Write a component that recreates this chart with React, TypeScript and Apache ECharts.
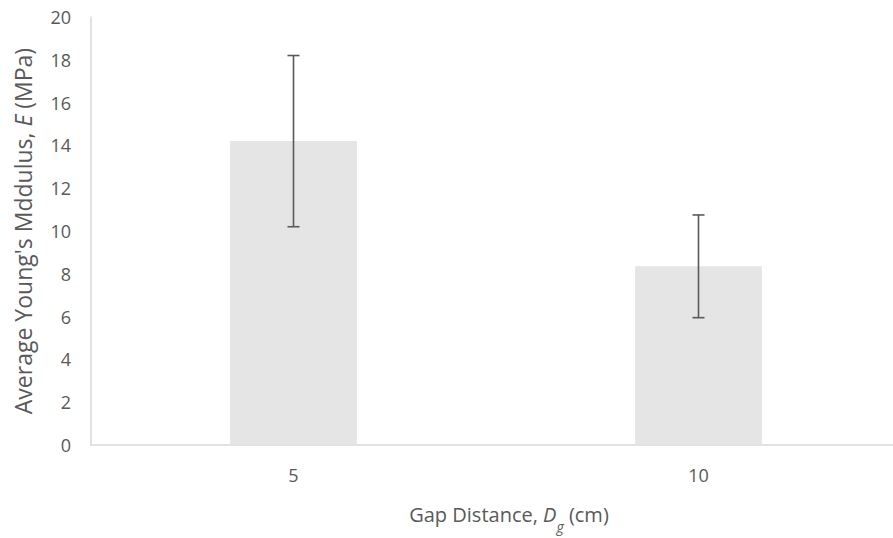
import React, { useEffect, useRef } from "react";
import * as echarts from "echarts";

const categories = ["5", "10"];
const meanValues = [14.2, 8.35];
const errorLow = [10.2, 5.95];
const errorHigh = [18.2, 10.75];
const yTicks = { min: 0, max: 20, interval: 2 };

export default function App() {
  const ref = useRef<HTMLDivElement>(null);
  useEffect(() => {
    if (!ref.current) return;
    const chart = echarts.init(ref.current, null, { renderer: "svg" });
    const font = "'Open Sans', 'Noto Sans', sans-serif";
    const errData = categories.map((c, i) => [i, errorLow[i], errorHigh[i]]);
    chart.setOption({
      animation: false,
      backgroundColor: "#ffffff",
      grid: { left: 91, right: -8, top: 17, bottom: 93, outerBoundsMode: "none", containLabel: false },
      xAxis: {
        type: "category",
        data: categories,
        axisLine: { show: true, lineStyle: { color: "#d9d9d9", width: 1.5 } },
        axisTick: { show: false },
        axisLabel: { color: "#595959", fontSize: 18, fontFamily: font, margin: 21 },
        name: "{n|Gap Distance, }{i|D}{s|g}{n| (cm)}",
        nameLocation: "middle",
        nameGap: 55,
        nameTextStyle: {
          padding: [0, 0, 0, 26],
          rich: {
            n: { color: "#595959", fontSize: 20, fontFamily: font, lineHeight: 28, verticalAlign: "middle" },
            i: { color: "#595959", fontSize: 20, fontFamily: font, fontStyle: "italic", lineHeight: 28, verticalAlign: "middle" },
            s: { color: "#595959", fontSize: 14, fontFamily: font, fontStyle: "italic", lineHeight: 28, verticalAlign: "bottom", padding: [0, 0, -5, 0] },
          },
        },
      },
      yAxis: {
        type: "value",
        min: yTicks.min,
        max: yTicks.max,
        interval: yTicks.interval,
        splitLine: { show: false },
        axisLine: { show: true, lineStyle: { color: "#d9d9d9", width: 1.5 } },
        axisTick: { show: false },
        axisLabel: { color: "#595959", fontSize: 18, fontFamily: font, margin: 20 },
        name: "{n|Average Young's Mddulus, }{i|E}{n| (MPa)}",
        nameLocation: "middle",
        nameGap: 57,
        nameTextStyle: {
          rich: {
            n: { color: "#595959", fontSize: 23, fontFamily: font },
            i: { color: "#595959", fontSize: 23, fontFamily: font, fontStyle: "italic" },
          },
        },
      },
      series: [
        {
          type: "bar",
          data: meanValues,
          barWidth: "31.3%",
          itemStyle: { color: "#e5e5e5" },
        },
        {
          type: "custom",
          data: errData,
          z: 10,
          renderItem: (params: any, api: any) => {
            const x = api.value(0);
            const lo = api.coord([x, api.value(1)]);
            const hi = api.coord([x, api.value(2)]);
            const half = 6;
            const style = { stroke: "#595959", lineWidth: 1.6 };
            return {
              type: "group",
              children: [
                { type: "line", shape: { x1: lo[0], y1: lo[1], x2: hi[0], y2: hi[1] }, style },
                { type: "line", shape: { x1: lo[0] - half, y1: lo[1], x2: lo[0] + half, y2: lo[1] }, style },
                { type: "line", shape: { x1: hi[0] - half, y1: hi[1], x2: hi[0] + half, y2: hi[1] }, style },
              ],
            };
          },
        },
      ],
    });
    return () => chart.dispose();
  }, []);
  return (
    <div
      ref={ref}
      style={{ position: "absolute", left: 0, top: 0, width: 893, height: 538 }}
    />
  );
}
